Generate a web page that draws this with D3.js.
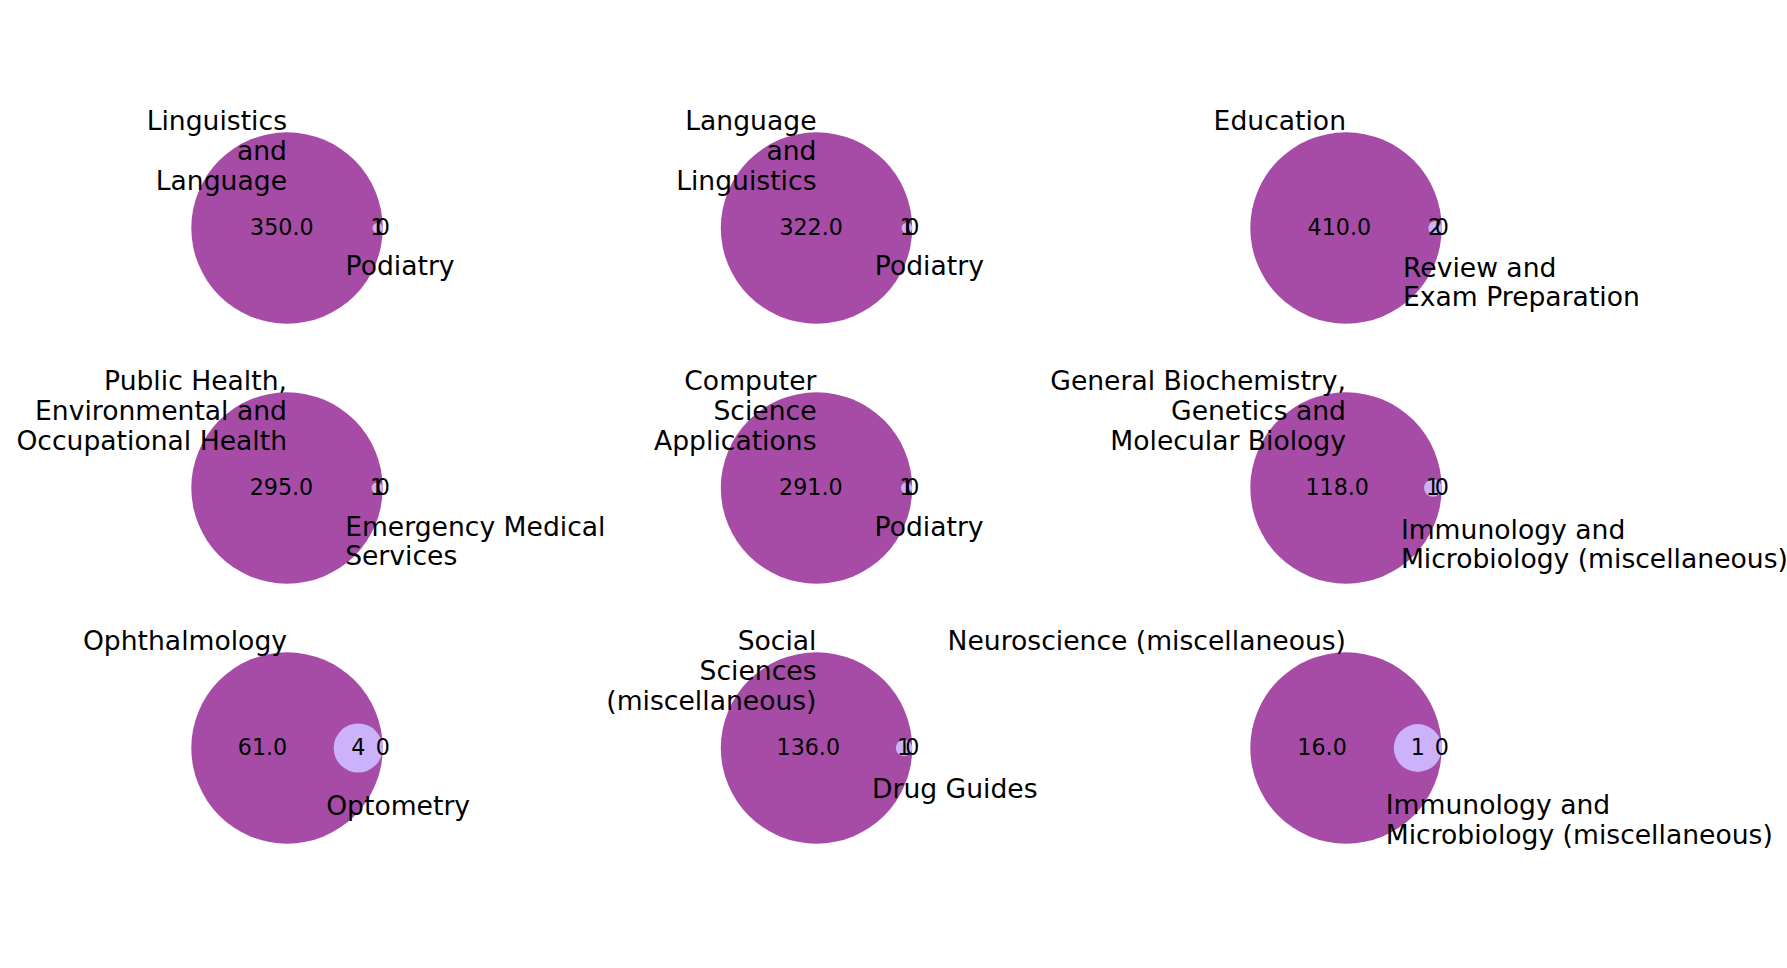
<!DOCTYPE html>
<html>
<head>
<meta charset="utf-8">
<script src="https://cdn.jsdelivr.net/npm/d3@7"></script>
<style>
  body { margin: 0; background: #fff; }
  text { font-family: "DejaVu Sans", sans-serif; fill: #000; }
</style>
</head>
<body>
<svg id="chart"></svg>
<script>
// one venn per panel, read left to right, top to bottom
const setA = [
  "Linguistics\nand\nLanguage",
  "Language\nand\nLinguistics",
  "Education",
  "Public Health,\nEnvironmental and\nOccupational Health",
  "Computer\nScience\nApplications",
  "General Biochemistry,\nGenetics and\nMolecular Biology",
  "Ophthalmology",
  "Social\nSciences\n(miscellaneous)",
  "Neuroscience (miscellaneous)"
]
const setB = [
  "Podiatry",
  "Podiatry",
  "Review and\nExam Preparation",
  "Emergency Medical\nServices",
  "Podiatry",
  "Immunology and\nMicrobiology (miscellaneous)",
  "Optometry",
  "Drug Guides",
  "Immunology and\nMicrobiology (miscellaneous)"
]
const onlyA = [350, 322, 410, 295, 291, 118, 61, 136, 16]
const onlyB = [1, 1, 2, 1, 1, 1, 4, 1, 1]
const both = [0, 0, 0, 0, 0, 0, 0, 0, 0]

const width = 1787, height = 968
const R = 95.7
const lineH = 29.6

const svg = d3.select('#chart')
    .attr('width', width)
    .attr('height', height)

const x = d3.scaleLinear().domain([0, 2]).range([287, 1346])
const y = d3.scaleLinear().domain([0, 2]).range([228, 748])
const fmtA = d3.format('.1f')

const panels = setA.map((a, i) => ({
    a, b: setB[i], va: onlyA[i], vb: onlyB[i], vab: both[i],
    cx: x(i % 3), cy: y(Math.floor(i / 3))
}))

const g = svg.selectAll('g.venn')
    .data(panels)
    .join('g')
    .attr('class', 'venn')

g.each(function (d) {
    const el = d3.select(this)
    // circle areas follow the set sizes
    const r = d3.scaleSqrt().domain([0, d.va + d.vab]).range([0, R])
    const rb = r(d.vb + d.vab)
    const bx = d.cx + R - rb

    el.append('circle')
        .attr('cx', d.cx).attr('cy', d.cy).attr('r', R)
        .attr('fill', '#a64ca6')
    el.append('circle')
        .attr('cx', bx).attr('cy', d.cy).attr('r', rb)
        .attr('fill', '#ccb2fa')

    const nums = [
        [d.cx - rb, fmtA(d.va)],
        [bx, d.vb],
        [d.cx + R, d.vab]
    ]
    el.selectAll('text.num')
        .data(nums)
        .join('text')
        .attr('class', 'num')
        .attr('x', n => n[0])
        .attr('y', d.cy)
        .attr('dy', '0.33em')
        .attr('text-anchor', 'middle')
        .style('font-size', '22.2px')
        .text(n => n[1])

    // set A label sits above the big circle, right aligned
    const ta = el.append('text')
        .attr('text-anchor', 'end')
        .style('font-size', '26.6px')
    d.a.split('\n').forEach((line, k) => {
        ta.append('tspan')
            .attr('x', d.cx)
            .attr('y', d.cy - R - 2 + k * lineH)
            .text(line)
    })

    // set B label below the small circle
    const tb = el.append('text')
        .attr('text-anchor', 'start')
        .style('font-size', '26.6px')
    d.b.split('\n').forEach((line, k) => {
        tb.append('tspan')
            .attr('x', bx - 32)
            .attr('y', d.cy + rb + 42 + k * lineH)
            .text(line)
    })
})
</script>
</body>
</html>
